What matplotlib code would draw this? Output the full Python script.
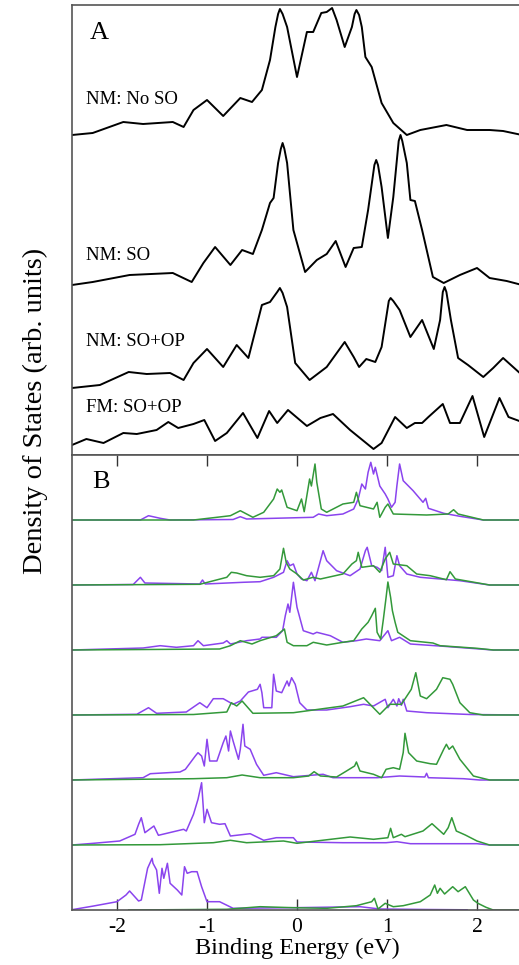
import numpy as np
import matplotlib.pyplot as plt

plt.rcParams['font.family'] = ['Liberation Serif', 'DejaVu Serif']

# ---- panel A: total DOS (arb. units) ----
e_noso = [-2.50, -2.27, -1.93, -1.71, -1.38, -1.26, -1.15, -1.00, -0.82, -0.63, -0.50, -0.39, -0.30,
          -0.24, -0.21, -0.19, -0.16, -0.11, 0.00, 0.11, 0.18, 0.27, 0.33, 0.39, 0.44, 0.53, 0.61,
          0.64, 0.66, 0.69, 0.72, 0.76, 0.83, 0.94, 1.07, 1.22, 1.37, 1.66, 1.89, 2.14, 2.29, 2.50]
dos_noso = [320, 322, 333, 331, 333, 328, 345, 355, 339, 357, 353, 365, 395, 428, 441, 446, 441, 428,
            378, 423, 423, 442, 443, 447, 435, 408, 428, 441, 445, 440, 428, 398, 388, 352, 332, 320,
            325, 330, 325, 325, 324, 320]

e_so = [-2.50, -2.27, -1.86, -1.38, -1.17, -1.04, -0.91, -0.74, -0.61, -0.49, -0.39, -0.30, -0.26,
        -0.21, -0.18, -0.16, -0.14, -0.11, -0.04, 0.09, 0.22, 0.33, 0.43, 0.54, 0.63, 0.72, 0.79, 0.86,
        0.88, 0.90, 0.94, 1.01, 1.07, 1.13, 1.15, 1.17, 1.22, 1.26, 1.31, 1.39, 1.51, 1.63, 1.81, 2.00,
        2.14, 2.33, 2.50]
dos_so = [170, 173, 180, 182, 173, 192, 208, 190, 205, 201, 225, 252, 257, 292, 306, 312, 306, 292,
          225, 183, 195, 201, 214, 188, 207, 208, 245, 290, 295, 290, 268, 217, 258, 314, 320, 314,
          292, 255, 254, 225, 178, 172, 180, 187, 177, 174, 170]

e_soop = [-2.50, -2.19, -1.87, -1.67, -1.41, -1.26, -1.15, -1.00, -0.82, -0.67, -0.54, -0.39, -0.30,
          -0.22, -0.19, -0.16, -0.11, -0.02, 0.14, 0.33, 0.53, 0.63, 0.69, 0.77, 0.87, 0.94, 1.02,
          1.04, 1.07, 1.14, 1.26, 1.39, 1.52, 1.59, 1.62, 1.64, 1.66, 1.71, 1.79, 1.90, 2.07, 2.18,
          2.29, 2.50]
dos_soop = [67, 70, 83, 81, 82, 75, 92, 106, 88, 110, 97, 150, 153, 163, 167, 162, 148, 92, 75, 88,
            113, 98, 88, 96, 93, 108, 154, 157, 154, 145, 118, 135, 106, 135, 163, 168, 163, 135, 97,
            90, 78, 87, 97, 80]

e_fm = [-2.50, -2.34, -2.15, -1.93, -1.78, -1.56, -1.43, -1.32, -1.15, -1.03, -0.91, -0.78, -0.60,
        -0.44, -0.31, -0.22, -0.10, 0.11, 0.26, 0.40, 0.59, 0.85, 0.94, 1.09, 1.22, 1.31, 1.39, 1.46,
        1.62, 1.70, 1.81, 1.95, 2.08, 2.25, 2.35, 2.50]
dos_fm = [10, 16, 12, 22, 21, 25, 33, 27, 31, 35, 14, 22, 42, 17, 44, 32, 45, 29, 37, 41, 25, 6, 12,
          38, 27, 32, 32, 38, 51, 32, 32, 59, 18, 57, 38, 33]

labels_a = ['NM: No SO', 'NM: SO', 'NM: SO+OP', 'FM: SO+OP']
label_a_y = [355, 199, 113, 47]

# ---- panel B: projected DOS, purple / green pairs, top to bottom ----
pe1 = [-2.50, -1.74, -1.65, -1.52, -1.41, -0.71, -0.63, -0.56, 0.18, 0.24, 0.33, 0.51, 0.63, 0.68, 0.72,
       0.76, 0.79, 0.82, 0.85, 0.87, 0.92, 0.98, 1.01, 1.05, 1.09, 1.11, 1.14, 1.18, 1.29, 1.40, 1.43,
       1.46, 1.63, 1.81, 2.07, 2.50]
ph1 = [0, 0, 4.3, 1.7, 0, 0.5, 3.3, 1, 2.7, 6, 4.3, 6, 11, 21, 36, 31, 47.7, 57.7, 46, 52.7, 34, 26, 21,
       12.7, 17.7, 34.3, 56, 39.3, 29.3, 17.7, 21.7, 11.7, 6.7, 3.7, 0, 0]
ge1 = [-2.50, -1.15, -0.89, -0.74, -0.63, -0.49, -0.37, -0.26, -0.22, -0.19, -0.17, -0.11, 0.00, 0.05,
       0.08, 0.14, 0.16, 0.20, 0.22, 0.27, 0.33, 0.51, 0.63, 0.66, 0.70, 0.85, 0.89, 0.92, 0.98, 1.01,
       1.07, 1.44, 1.68, 1.74, 1.79, 2.07, 2.50]
gh1 = [0, 0, 2.7, 4.3, 9.3, 2.7, 7.7, 21, 31, 27.7, 30, 12.7, 9.3, 21, 8.3, 41, 34, 56, 37.7, 11, 7.7,
       16, 17.7, 27.7, 14.3, 11, 17.7, 2.7, 12.7, 16, 6, 5, 6, 10.3, 6, 0, 0]

pe2 = [-2.50, -1.82, -1.74, -1.69, -1.08, -1.05, -1.02, -0.60, -0.41, -0.26, -0.15, -0.11, -0.08, -0.04,
       0.00, 0.05, 0.11, 0.16, 0.20, 0.26, 0.29, 0.33, 0.44, 0.59, 0.70, 0.76, 0.78, 0.83, 0.89, 0.94,
       0.98, 1.01, 1.07, 1.11, 1.14, 1.22, 1.37, 1.81, 2.14, 2.50]
ph2 = [0, 0.5, 7.7, 2, 1, 5, 1, 2.7, 3.3, 7.7, 12.7, 24.3, 19.3, 21, 11, 6, 4.3, 12.7, 4.3, 24.3, 34.3,
       24.3, 14.3, 9.3, 16, 34.3, 37.7, 19.3, 17.7, 14.3, 37.7, 7.7, 9.3, 29.3, 19.3, 11, 7.7, 4.3, 0, 0]
ge2 = [-2.50, -1.08, -0.78, -0.73, -0.67, -0.56, -0.41, -0.26, -0.19, -0.15, -0.12, -0.08, 0.00, 0.07,
       0.18, 0.26, 0.51, 0.61, 0.66, 0.68, 0.72, 0.85, 0.92, 0.98, 1.03, 1.07, 1.22, 1.33, 1.48, 1.66,
       1.70, 1.76, 2.14, 2.50]
gh2 = [0, 0.7, 7.7, 12.7, 12, 9.3, 7.7, 9.3, 16, 36.7, 22.7, 16, 11, 5, 7.7, 6, 11, 21, 24.3, 32.7,
       17.7, 19.3, 12.7, 26, 32.7, 21, 19.3, 11, 9.3, 5.3, 13.3, 6, 0, 0]

pe3 = [-2.50, -1.71, -1.52, -1.34, -1.15, -1.10, -1.04, -0.82, -0.78, -0.74, -0.56, -0.41, -0.39, -0.23,
       -0.16, -0.13, -0.10, -0.08, -0.04, 0.00, 0.07, 0.18, 0.22, 0.37, 0.51, 0.66, 0.77, 0.92, 1.01,
       1.05, 1.14, 1.26, 1.63, 2.18, 2.50]
ph3 = [0, 2, 4.3, 2.7, 4.3, 9.3, 4.3, 7, 9.3, 6, 9.3, 11, 12.7, 12.7, 19.3, 34.3, 46, 37.7, 67.7, 42.7,
       19.3, 16, 17.7, 14.3, 7.7, 9.3, 11, 9.3, 19.3, 9.3, 12.7, 6, 3.7, 0, 0]
ge3 = [-2.50, -0.86, -0.74, -0.63, -0.50, -0.41, -0.23, -0.14, -0.11, -0.04, 0.11, 0.18, 0.33, 0.51,
       0.63, 0.72, 0.79, 0.83, 0.87, 0.89, 0.93, 0.96, 0.99, 1.01, 1.04, 1.06, 1.09, 1.12, 1.26, 1.51,
       1.59, 2.00, 2.18, 2.50]
gh3 = [0, 1, 4.3, 9.3, 6, 9.3, 14.3, 21, 7.7, 4.3, 4.3, 7.7, 5, 7.7, 9.3, 21, 27.7, 34.3, 41.7, 17.7,
       11, 31, 52.7, 68, 52.7, 39.3, 27.7, 17.7, 9.3, 7, 4.3, 1.7, 0, 0]

pe4 = [-2.50, -1.78, -1.65, -1.56, -1.23, -1.08, -1.00, -0.93, -0.82, -0.71, -0.63, -0.54, -0.44, -0.41,
       -0.39, -0.37, -0.28, -0.26, -0.23, -0.17, -0.11, -0.09, -0.06, -0.02, 0.03, 0.11, 0.33, 0.59,
       0.74, 0.85, 0.98, 1.01, 1.07, 1.11, 1.13, 1.16, 1.18, 1.22, 1.44, 1.92, 2.50]
ph4 = [0, 0.7, 7.3, 1.7, 3, 12.3, 7.3, 16.3, 16.3, 10.7, 14, 23, 25.7, 30.7, 22.3, 7.3, 7.3, 40.7, 24,
       22.3, 34, 29, 37.3, 30.7, 12.3, 5, 5, 8.3, 10.7, 9, 15.7, 7.3, 15.7, 9, 16.3, 9.7, 15.7, 4, 2.3,
       0.5, 0]
ge4 = [-2.50, -1.15, -0.78, -0.73, -0.67, -0.61, -0.49, -0.04, 0.51, 0.74, 0.92, 1.03, 1.16, 1.27, 1.32,
       1.37, 1.44, 1.55, 1.62, 1.70, 1.73, 1.81, 1.92, 2.07, 2.50]
gh4 = [0, 0.5, 3, 12.3, 9, 14, 1.7, 2.3, 9, 17.3, 0.7, 10.7, 10.7, 25.7, 42.3, 19, 16.3, 25.7, 37.3,
       35.7, 30.7, 12.3, 2.3, 0, 0]

pe5 = [-2.50, -1.71, -1.63, -1.30, -1.24, -1.13, -1.10, -1.06, -1.03, -1.00, -0.97, -0.89, -0.82, -0.79,
       -0.76, -0.74, -0.71, -0.65, -0.63, -0.60, -0.58, -0.52, -0.45, -0.37, -0.23, -0.04, 0.29, 0.40,
       0.89, 1.14, 1.42, 1.44, 1.46, 1.85, 2.03, 2.50]
ph5 = [0, 2.3, 6.3, 8, 10.7, 24, 27.3, 24, 14, 40.7, 19, 19, 37.3, 44, 29, 49, 39, 20.7, 30.7, 55.7, 34,
       30.7, 15.7, 4.7, 7.3, 3.3, 5.7, 2.3, 2.3, 4, 3, 6.7, 2.3, 1.3, 0, 0]
ge5 = [-2.50, -1.15, -0.78, -0.61, -0.41, -0.04, 0.13, 0.19, 0.26, 0.44, 0.55, 0.64, 0.66, 0.70, 0.85,
       0.94, 0.99, 1.07, 1.14, 1.18, 1.20, 1.24, 1.33, 1.48, 1.55, 1.63, 1.66, 1.69, 1.73, 1.81, 1.96,
       2.14, 2.50]
gh5 = [0, 1.3, 2.3, 5, 2.3, 2.3, 4, 8.3, 4, 3, 9, 14, 18, 9, 5.7, 2.3, 10.7, 12.3, 10.7, 27.3, 46.7,
       27.3, 19, 16.3, 15.7, 30.7, 35.7, 30.7, 34, 20.7, 4, 0, 0]

pe6 = [-2.50, -2.26, -1.97, -1.80, -1.76, -1.73, -1.69, -1.59, -1.54, -1.26, -1.23, -1.15, -1.10, -1.06,
       -1.03, -1.00, -0.95, -0.86, -0.80, -0.74, -0.52, -0.37, -0.23, -0.04, 0.00, 0.51, 0.99, 1.11,
       1.26, 2.00, 2.14, 2.50]
ph6 = [0, 1.7, 4, 10.7, 20.7, 27.3, 12.3, 19, 9.7, 15.7, 14, 30.7, 45.7, 62.3, 22.3, 35.7, 22.3, 20.7,
       21.3, 9, 11.3, 4.7, 7.3, 7.3, 3, 2.3, 2.3, 3.3, 1.3, 1.3, 0, 0]
ge6 = [-2.50, -1.52, -0.93, -0.74, -0.56, -0.15, 0.00, 0.59, 0.85, 1.01, 1.04, 1.07, 1.16, 1.20, 1.40,
       1.50, 1.63, 1.68, 1.72, 1.77, 1.87, 2.00, 2.14, 2.50]
gh6 = [0, 0.3, 2.3, 4.7, 2.3, 4, 1.7, 8, 5.7, 7.3, 16.7, 7.3, 10.7, 8.3, 14, 21.3, 10.7, 17.3, 27.3, 14,
       10, 4, 0, 0]

pe7 = [-2.50, -2.26, -2.00, -1.90, -1.86, -1.76, -1.73, -1.66, -1.61, -1.60, -1.56, -1.53, -1.50, -1.48,
       -1.44, -1.41, -1.33, -1.28, -1.25, -1.22, -1.17, -1.11, -1.06, -1.00, -0.86, -0.71, -0.04, 0.70,
       0.92, 1.44, 1.89]
ph7 = [0.3, 4, 8.3, 15, 19, 9, 10, 41.7, 51.7, 46.7, 40, 16.7, 41.7, 31.7, 46.7, 26.7, 20, 15, 43.3,
       36.7, 38.3, 38.3, 23.3, 8.3, 8.3, 1.7, 2.3, 3.3, 1, 0.5, 0.2]
ge7 = [-1.87, -0.78, -0.41, -0.04, 0.33, 0.66, 0.83, 0.86, 0.90, 0.98, 1.07, 1.18, 1.37, 1.48, 1.53,
       1.56, 1.59, 1.64, 1.73, 1.79, 1.87, 1.96, 2.01, 2.10, 2.18, 2.50]
gh7 = [0, 0.7, 3.3, 2.3, 1.7, 4.3, 8.3, 11.7, 1, 6.7, 3.3, 4.3, 8.3, 15, 25, 16.7, 21.7, 16, 23.3, 18.3,
       23.3, 10, 6.7, 2.7, 0, 0]

purple_e = [pe1, pe2, pe3, pe4, pe5, pe6, pe7]
purple_h = [ph1, ph2, ph3, ph4, ph5, ph6, ph7]
green_e = [ge1, ge2, ge3, ge4, ge5, ge6, ge7]
green_h = [gh1, gh2, gh3, gh4, gh5, gh6, gh7]
spacing_b = 65

xticks = [-2, -1, 0, 1, 2]

W, H = 519, 965
fig = plt.figure(figsize=(W / 100, H / 100), dpi=100)
left = 72 / W
width = 450 / W
ax_a = fig.add_axes([left, 1 - 455 / H, width, 450 / H])
ax_b = fig.add_axes([left, 1 - 910 / H, width, 455 / H])

spine_col = '#555555'

for e, d in zip([e_noso, e_so, e_soop, e_fm], [dos_noso, dos_so, dos_soop, dos_fm]):
    ax_a.plot(e, d, color='black', lw=1.4, solid_joinstyle='round')
for lab, yy in zip(labels_a, label_a_y):
    ax_a.text(-2.34, yy, lab, fontsize=13.5, va='center', ha='left')
ax_a.text(-2.30, 422, 'A', fontsize=19, va='center', ha='left')
ax_a.set_xlim(-2.5, 2.5)
ax_a.set_ylim(0, 450)
ax_a.set_xticks([])
ax_a.set_yticks([])

n = len(purple_e)
for i in range(n):
    off = (n - 1 - i) * spacing_b
    ax_b.plot(purple_e[i], np.array(purple_h[i]) + off, color='#8a44ee', lw=1.1)
    ax_b.plot(green_e[i], np.array(green_h[i]) + off, color='#33993a', lw=1.1)
ax_b.text(-2.28, 428, 'B', fontsize=19, va='center', ha='left')
ax_b.set_xlim(-2.5, 2.5)
ax_b.set_ylim(0, 455)
ax_b.set_yticks([])
ax_b.set_xticks(xticks)
ax_b.set_xticklabels([str(t) for t in xticks], fontsize=15.5)
ax_b.tick_params(axis='x', direction='in', length=8, width=1, color='#333333',
                 top=True, bottom=True, pad=6)
ax_b.set_xlabel('Binding Energy (eV)', fontsize=17.5, labelpad=0)

for ax in (ax_a, ax_b):
    for s in ax.spines.values():
        s.set_color(spine_col)
        s.set_linewidth(1.2)

fig.text(35 / W, 1 - 411 / H, 'Density of States (arb. units)', rotation=90,
         fontsize=20.5, va='center', ha='center')

fig.savefig('out.png', dpi=100)
